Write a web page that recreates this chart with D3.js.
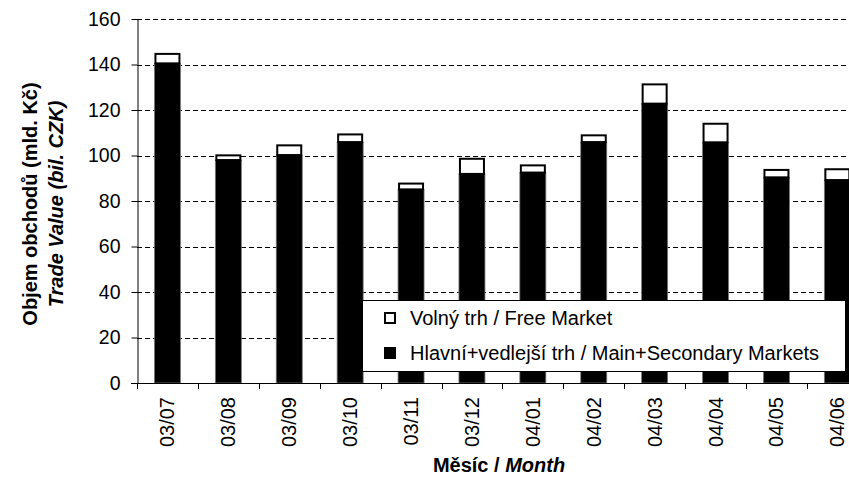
<!DOCTYPE html>
<html>
<head>
<meta charset="utf-8">
<script src="https://cdn.jsdelivr.net/npm/d3@7"></script>
<style>
  body { margin: 0; background: #fff; }
  svg { display: block; font-family: "Liberation Sans", Arial, sans-serif; }
</style>
</head>
<body>
<div class="canvas"></div>
<script>
const months = ["03/07", "03/08", "03/09", "03/10", "03/11", "03/12",
  "04/01", "04/02", "04/03", "04/04", "04/05", "04/06"];
// Hlavní+vedlejší trh / Main+Secondary Markets
const mainMarkets = [140.5, 98, 100.2, 105.9, 85.1, 91.9, 92.5, 105.9, 122.8, 105.8, 90.4, 89.2];
// Volný trh / Free Market
const freeMarket = [4.6, 2.5, 4.7, 3.8, 3.0, 7.1, 3.6, 3.4, 8.9, 8.6, 3.7, 5.2];
const yTicks = [0, 20, 40, 60, 80, 100, 120, 140, 160];

const width = 849, height = 483;
const plotLeft = 137, plotBottom = 383, plotTop = 19, step = 60.9;

const svg = d3.select(".canvas").append("svg")
  .attr("width", width)
  .attr("height", height);

const x = d3.scaleBand()
  .domain(months)
  .range([plotLeft, plotLeft + step * months.length])
  .paddingInner(0.573)
  .paddingOuter(0.2865);

const y = d3.scaleLinear().domain([0, 160]).range([plotBottom, plotTop]);

// dashed gridlines
svg.append("g")
  .selectAll("line")
  .data(yTicks.filter(d => d > 0))
  .enter()
  .append("line")
  .attr("x1", plotLeft)
  .attr("x2", width)
  .attr("y1", d => Math.round(y(d)) + 0.5)
  .attr("y2", d => Math.round(y(d)) + 0.5)
  .attr("stroke", "#000")
  .attr("stroke-dasharray", "5,3");

// bars
const bars = svg.append("g")
  .selectAll("g")
  .data(months)
  .enter()
  .append("g");

bars.append("rect")
  .attr("x", d => x(d))
  .attr("width", x.bandwidth())
  .attr("y", (d, i) => y(mainMarkets[i]))
  .attr("height", (d, i) => y(0) - y(mainMarkets[i]))
  .attr("fill", "#000")
  .attr("stroke", "#777")
  .attr("stroke-width", 0.8);

bars.append("rect")
  .attr("x", d => x(d) + 1)
  .attr("width", x.bandwidth() - 2)
  .attr("y", (d, i) => y(mainMarkets[i] + freeMarket[i]) + 1)
  .attr("height", (d, i) => y(mainMarkets[i]) - y(mainMarkets[i] + freeMarket[i]) - 1)
  .attr("fill", "#fff")
  .attr("stroke", "#000")
  .attr("stroke-width", 2);

// y axis
const yAxis = svg.append("g")
  .attr("transform", `translate(${plotLeft + 0.5},0)`)
  .call(d3.axisLeft(y).tickValues(yTicks).tickSize(6).tickPadding(11).tickSizeOuter(0));
yAxis.select(".domain").attr("stroke", "#000");
yAxis.selectAll(".tick line").attr("stroke", "#000");
yAxis.selectAll("text")
  .attr("font-size", "19.5px")
  .attr("font-family", "Liberation Sans, Arial, sans-serif")
  .attr("fill", "#000");

// x axis baseline and category boundary ticks
svg.append("line")
  .attr("x1", plotLeft - 6)
  .attr("x2", width)
  .attr("y1", plotBottom + 0.5)
  .attr("y2", plotBottom + 0.5)
  .attr("stroke", "#000");

svg.append("g")
  .selectAll("line")
  .data(d3.range(months.length + 1))
  .enter()
  .append("line")
  .attr("x1", i => Math.round(plotLeft + i * x.step()) + 0.5)
  .attr("x2", i => Math.round(plotLeft + i * x.step()) + 0.5)
  .attr("y1", plotBottom)
  .attr("y2", plotBottom + 6)
  .attr("stroke", "#000");

svg.append("g")
  .selectAll("text")
  .data(months)
  .enter()
  .append("text")
  .attr("transform", d => `translate(${x(d) + x.bandwidth() / 2 + 7},${plotBottom + 14}) rotate(-90)`)
  .attr("text-anchor", "end")
  .attr("font-size", "20px")
  .text(d => d);

// axis titles
svg.append("text")
  .attr("transform", `translate(37,${(plotTop + plotBottom) / 2 + 3}) rotate(-90)`)
  .attr("text-anchor", "middle")
  .attr("font-size", "20px")
  .attr("font-weight", "bold")
  .text("Objem obchodů (mld. Kč)");

svg.append("text")
  .attr("transform", `translate(63,${(plotTop + plotBottom) / 2 + 3}) rotate(-90)`)
  .attr("text-anchor", "middle")
  .attr("font-size", "20px")
  .attr("font-weight", "bold")
  .attr("font-style", "italic")
  .text("Trade Value (bil. CZK)");

const xTitle = svg.append("text")
  .attr("x", 499)
  .attr("y", 472)
  .attr("text-anchor", "middle")
  .attr("font-size", "20px")
  .attr("font-weight", "bold");
xTitle.append("tspan").text("Měsíc / ");
xTitle.append("tspan").attr("font-style", "italic").text("Month");

// legend
const legend = svg.append("g").attr("transform", "translate(362,300)");
legend.append("rect")
  .attr("x", 0.5)
  .attr("y", 0.5)
  .attr("width", 483)
  .attr("height", 71)
  .attr("fill", "#fff")
  .attr("stroke", "#000");

const legendItems = [
  { label: "Volný trh / Free Market", fill: "#fff" },
  { label: "Hlavní+vedlejší trh / Main+Secondary Markets", fill: "#000" }
];
const li = legend.selectAll(".item")
  .data(legendItems)
  .enter()
  .append("g")
  .attr("class", "item")
  .attr("transform", (d, i) => `translate(0,${i * 35})`);
li.append("rect")
  .attr("x", 23)
  .attr("y", 13)
  .attr("width", 10)
  .attr("height", 10)
  .attr("fill", d => d.fill)
  .attr("stroke", "#000")
  .attr("stroke-width", 2);
li.append("text")
  .attr("x", 48)
  .attr("y", 25)
  .attr("font-size", "20px")
  .text(d => d.label);
</script>
</body>
</html>
